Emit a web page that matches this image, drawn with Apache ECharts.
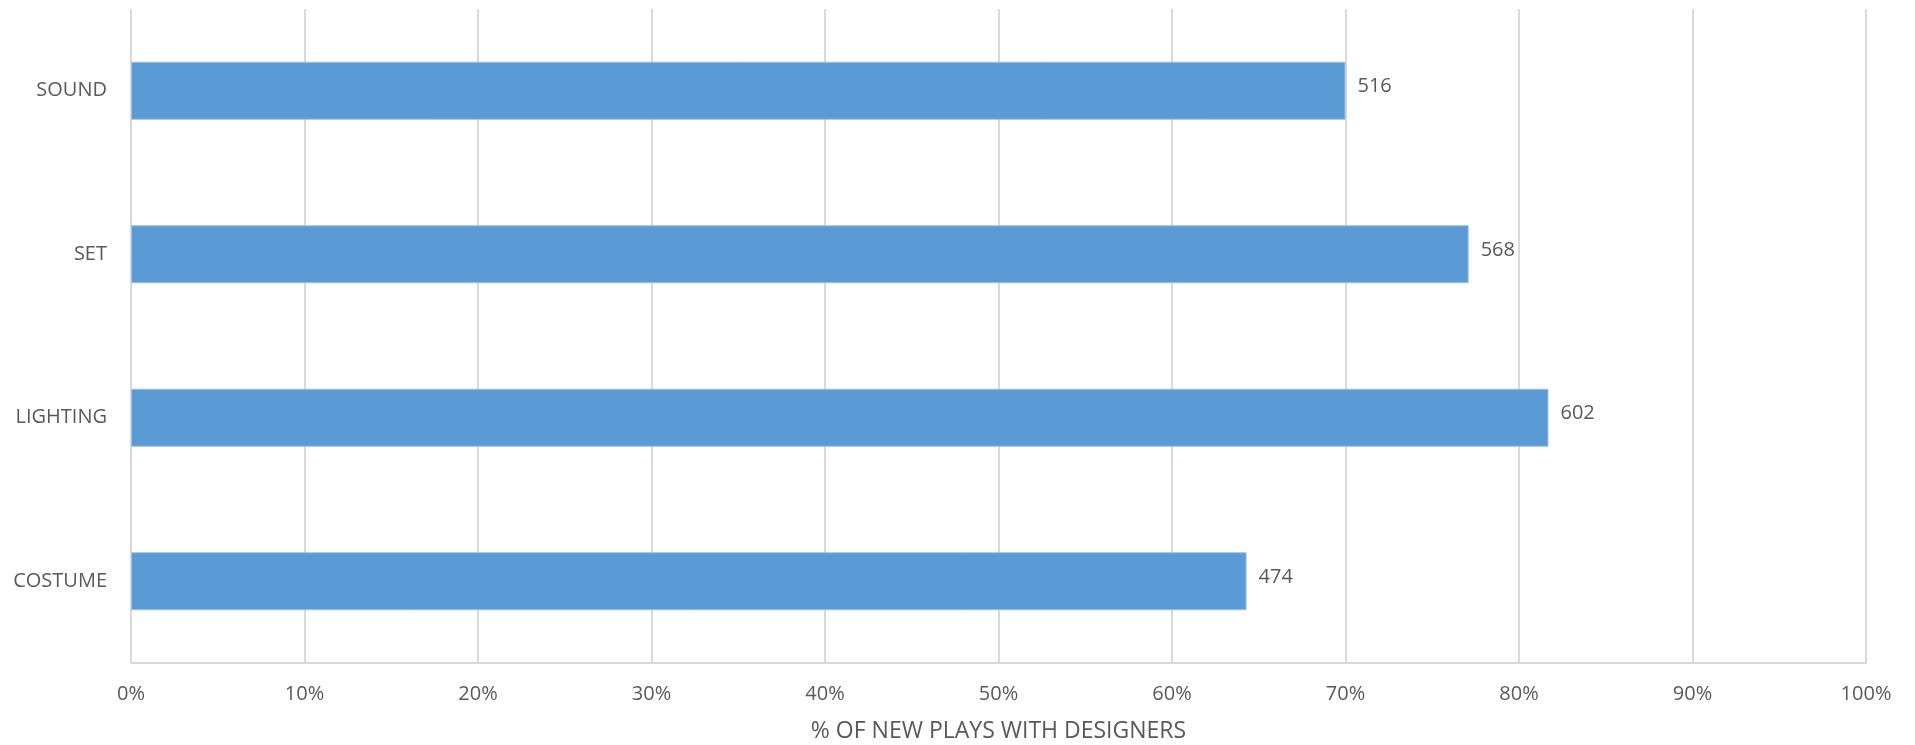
<!DOCTYPE html>
<html>
<head>
<meta charset="utf-8">
<script src="https://cdn.jsdelivr.net/npm/echarts@6/dist/echarts.min.js"></script>
<style>
html,body{margin:0;padding:0;background:#fff;}
#chart{width:1915px;height:745px;}
</style>
</head>
<body>
<div id="chart"></div>
<script>
const categories = ['COSTUME', 'LIGHTING', 'SET', 'SOUND'];
const percentValues = [64.3, 81.7, 77.1, 70.0];
const countLabels = [474, 602, 568, 516];
const xTickValues = [0, 10, 20, 30, 40, 50, 60, 70, 80, 90, 100];
const xAxisTitle = '% OF NEW PLAYS WITH DESIGNERS';

const chart = echarts.init(document.getElementById('chart'));
const font = '"Open Sans", "Liberation Sans", sans-serif';
chart.setOption({
  animation: false,
  grid: { left: 131, right: 49, top: 9, bottom: 82, containLabel: false, outerBoundsMode: 'none' },
  xAxis: {
    type: 'value',
    min: xTickValues[0],
    max: xTickValues[xTickValues.length - 1],
    interval: 10,
    name: xAxisTitle,
    nameLocation: 'middle',
    nameGap: 57,
    nameTextStyle: { color: '#595959', fontSize: 23, fontFamily: font },
    axisLine: { show: true, lineStyle: { color: '#d9d9d9', width: 2 } },
    axisTick: { show: false },
    splitLine: { show: true, lineStyle: { color: '#d9d9d9', width: 2 } },
    axisLabel: { color: '#595959', fontSize: 20, fontFamily: font, margin: 21, formatter: v => v + '%' }
  },
  yAxis: {
    type: 'category',
    data: categories,
    axisLine: { show: false },
    axisTick: { show: false },
    splitLine: { show: false },
    axisLabel: { color: '#595959', fontSize: 20, fontFamily: font, margin: 24 }
  },
  series: [{
    type: 'bar',
    data: percentValues,
    barWidth: '35.5%',
    itemStyle: { color: '#5b9bd5', borderColor: '#9dc3e6', borderWidth: 1 },
    label: {
      show: true,
      position: 'right',
      distance: 12,
      offset: [0, -4],
      color: '#595959',
      fontSize: 20,
      fontFamily: font,
      formatter: p => countLabels[p.dataIndex]
    }
  }]
});
</script>
</body>
</html>
